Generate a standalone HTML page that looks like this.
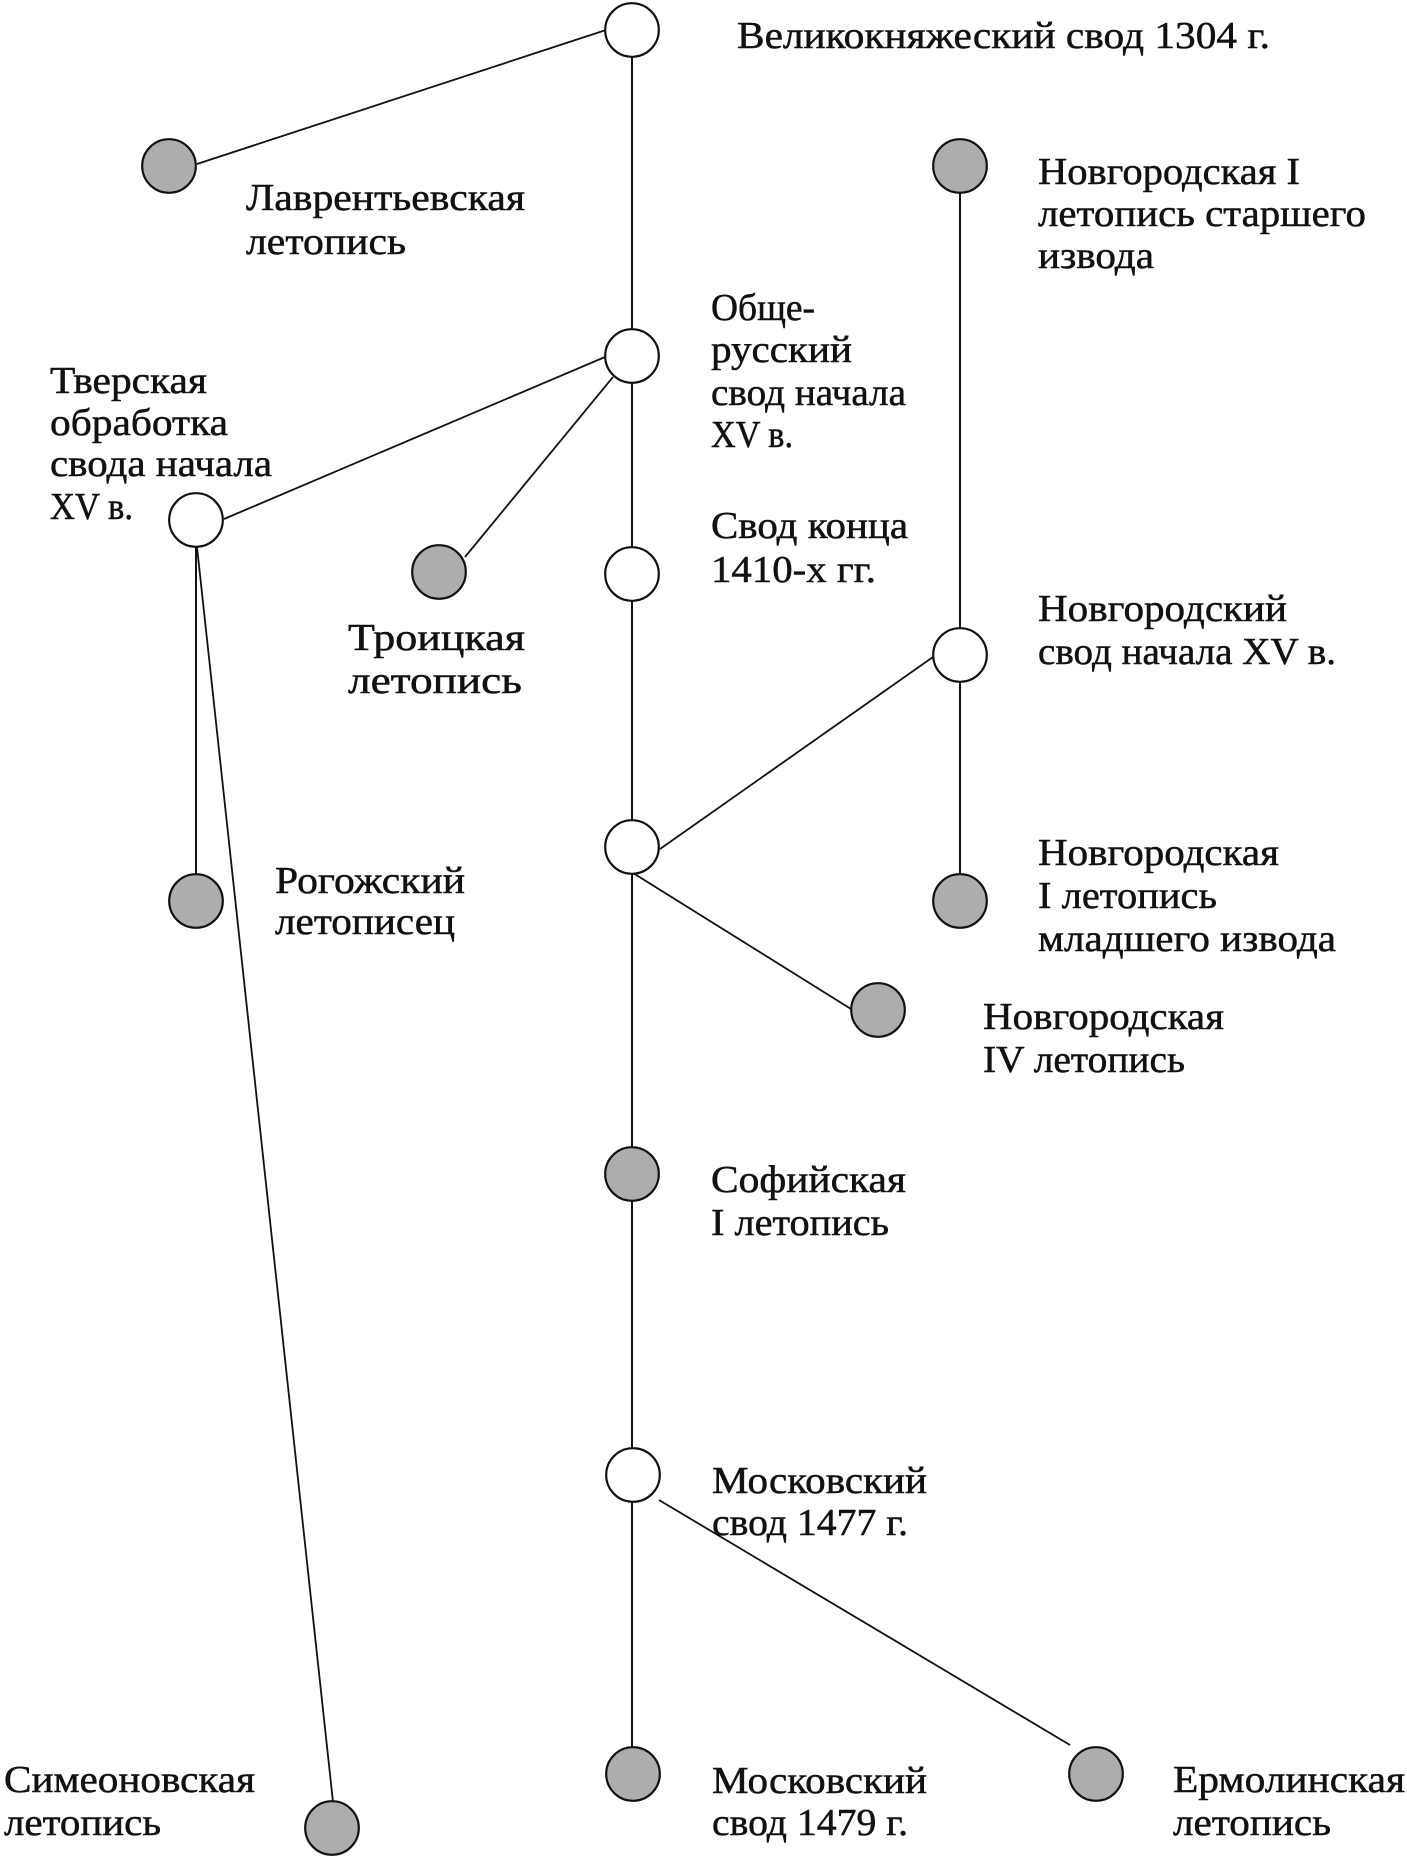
<!DOCTYPE html>
<html>
<head>
<meta charset="utf-8">
<style>
html,body{margin:0;padding:0;background:#fff;}
svg{display:block;}
text{font-family:"Liberation Serif","DejaVu Serif",serif;font-size:38px;fill:#111;stroke:#111;stroke-width:0.5px;}
</style>
</head>
<body>
<svg width="1407" height="1858" viewBox="0 0 1407 1858" xmlns="http://www.w3.org/2000/svg">
<g stroke="#111" stroke-width="1.8" fill="none">
  <line x1="632" y1="30" x2="632" y2="1774" stroke-width="2"/>
  <line x1="606" y1="30" x2="197" y2="164"/>
  <line x1="605" y1="357" x2="224" y2="519"/>
  <line x1="613" y1="377" x2="465" y2="557"/>
  <line x1="196" y1="520" x2="196" y2="901" stroke-width="2"/>
  <line x1="197" y1="547" x2="333" y2="1802"/>
  <line x1="960" y1="166" x2="960" y2="901" stroke-width="2"/>
  <line x1="933" y1="657" x2="660" y2="849"/>
  <line x1="633" y1="873" x2="851" y2="1009"/>
  <line x1="659" y1="1500" x2="1070" y2="1745"/>
</g>
<g stroke="#111" stroke-width="2.2">
  <circle cx="632" cy="30" r="26.8" fill="#fff"/>
  <circle cx="632" cy="356" r="26.8" fill="#fff"/>
  <circle cx="196" cy="520" r="26.8" fill="#fff"/>
  <circle cx="632" cy="574" r="26.8" fill="#fff"/>
  <circle cx="960" cy="655" r="26.8" fill="#fff"/>
  <circle cx="632" cy="847" r="26.8" fill="#fff"/>
  <circle cx="633" cy="1475" r="26.8" fill="#fff"/>
  <circle cx="169" cy="166" r="26.8" fill="#adadad"/>
  <circle cx="960" cy="166" r="26.8" fill="#adadad"/>
  <circle cx="439" cy="572" r="26.8" fill="#adadad"/>
  <circle cx="196" cy="901" r="26.8" fill="#adadad"/>
  <circle cx="960" cy="901" r="26.8" fill="#adadad"/>
  <circle cx="878" cy="1010" r="26.8" fill="#adadad"/>
  <circle cx="632" cy="1174" r="26.8" fill="#adadad"/>
  <circle cx="633" cy="1774" r="26.8" fill="#adadad"/>
  <circle cx="1096" cy="1774" r="26.8" fill="#adadad"/>
  <circle cx="332" cy="1828" r="26.8" fill="#adadad"/>
</g>
<g>
  <text x="737" y="48" textLength="533" lengthAdjust="spacingAndGlyphs">Великокняжеский свод 1304 г.</text>

  <text x="246" y="210" textLength="279" lengthAdjust="spacingAndGlyphs">Лаврентьевская</text>
  <text x="246" y="254" textLength="160" lengthAdjust="spacingAndGlyphs">летопись</text>

  <text x="1038" y="184" textLength="262" lengthAdjust="spacingAndGlyphs">Новгородская I</text>
  <text x="1038" y="226" textLength="328" lengthAdjust="spacingAndGlyphs">летопись старшего</text>
  <text x="1038" y="268" textLength="116" lengthAdjust="spacingAndGlyphs">извода</text>

  <text x="711" y="320" textLength="104" lengthAdjust="spacingAndGlyphs">Обще-</text>
  <text x="711" y="362" textLength="141" lengthAdjust="spacingAndGlyphs">русский</text>
  <text x="711" y="405" textLength="195" lengthAdjust="spacingAndGlyphs">свод начала</text>
  <text x="711" y="447" textLength="82" lengthAdjust="spacingAndGlyphs">XV в.</text>

  <text x="50" y="393" textLength="157" lengthAdjust="spacingAndGlyphs">Тверская</text>
  <text x="50" y="435" textLength="178" lengthAdjust="spacingAndGlyphs">обработка</text>
  <text x="50" y="476" textLength="222" lengthAdjust="spacingAndGlyphs">свода начала</text>
  <text x="50" y="519" textLength="83" lengthAdjust="spacingAndGlyphs">XV в.</text>

  <text x="348" y="650" textLength="177" lengthAdjust="spacingAndGlyphs">Троицкая</text>
  <text x="348" y="693" textLength="174" lengthAdjust="spacingAndGlyphs">летопись</text>

  <text x="711" y="538" textLength="197" lengthAdjust="spacingAndGlyphs">Свод конца</text>
  <text x="711" y="582" textLength="165" lengthAdjust="spacingAndGlyphs">1410-х  гг.</text>

  <text x="1038" y="621" textLength="249" lengthAdjust="spacingAndGlyphs">Новгородский</text>
  <text x="1038" y="664" textLength="298" lengthAdjust="spacingAndGlyphs">свод начала XV в.</text>

  <text x="275" y="893" textLength="190" lengthAdjust="spacingAndGlyphs">Рогожский</text>
  <text x="275" y="934" textLength="180" lengthAdjust="spacingAndGlyphs">летописец</text>

  <text x="1038" y="865" textLength="241" lengthAdjust="spacingAndGlyphs">Новгородская</text>
  <text x="1038" y="908" textLength="179" lengthAdjust="spacingAndGlyphs">I летопись</text>
  <text x="1038" y="951" textLength="298" lengthAdjust="spacingAndGlyphs">младшего извода</text>

  <text x="983" y="1029" textLength="241" lengthAdjust="spacingAndGlyphs">Новгородская</text>
  <text x="983" y="1072" textLength="202" lengthAdjust="spacingAndGlyphs">IV летопись</text>

  <text x="711" y="1192" textLength="195" lengthAdjust="spacingAndGlyphs">Софийская</text>
  <text x="711" y="1235" textLength="178" lengthAdjust="spacingAndGlyphs">I летопись</text>

  <text x="712" y="1493" textLength="215" lengthAdjust="spacingAndGlyphs">Московский</text>
  <text x="712" y="1535" textLength="196" lengthAdjust="spacingAndGlyphs">свод 1477 г.</text>

  <text x="712" y="1793" textLength="215" lengthAdjust="spacingAndGlyphs">Московский</text>
  <text x="712" y="1835" textLength="196" lengthAdjust="spacingAndGlyphs">свод 1479 г.</text>

  <text x="4" y="1792" textLength="251" lengthAdjust="spacingAndGlyphs">Симеоновская</text>
  <text x="4" y="1835" textLength="157" lengthAdjust="spacingAndGlyphs">летопись</text>

  <text x="1173" y="1792" textLength="232" lengthAdjust="spacingAndGlyphs">Ермолинская</text>
  <text x="1173" y="1835" textLength="158" lengthAdjust="spacingAndGlyphs">летопись</text>
</g>
</svg>
</body>
</html>
